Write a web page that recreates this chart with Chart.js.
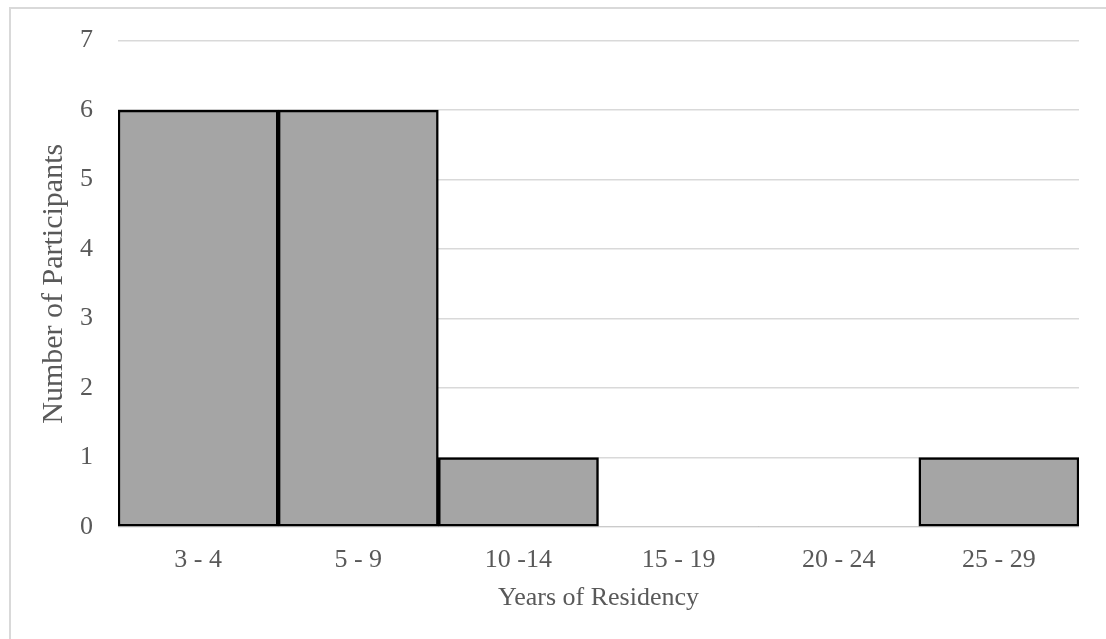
<!DOCTYPE html>
<html>
<head>
<meta charset="utf-8">
<script src="https://cdn.jsdelivr.net/npm/chart.js@4"></script>
<style>
  html, body { margin: 0; padding: 0; background: #fff; overflow: hidden; }
  #wrap { position: relative; width: 1106px; height: 639px; }
  #frame { position: absolute; left: 9px; top: 7px; width: 1200px; height: 700px; border: 2px solid #d9d9d9; box-sizing: border-box; }
  canvas { position: absolute; left: 0; top: 0; }
</style>
</head>
<body>
<div id="wrap">
  <div id="frame"></div>
  <canvas id="grafico" width="1106" height="639"></canvas>
</div>
<script>
const categorias = ["3 - 4", "5 - 9", "10 -14", "15 - 19", "20 - 24", "25 - 29"];
const participantes = [6, 6, 1, 0, 0, 1];
const tituloX = "Years of Residency";
const tituloY = "Number of Participants";

const fonte = "'Liberation Serif', 'Times New Roman', serif";
const corTexto = "#595959";

new Chart(document.getElementById("grafico"), {
  type: 'bar',
  data: {
    labels: categorias,
    datasets: [{
      data: participantes,
      backgroundColor: "#a5a5a5",
      borderColor: "#000000",
      borderWidth: ctx => (ctx.raw ? 2.5 : 0),
      borderSkipped: false,
      barPercentage: 1,
      categoryPercentage: 1
    }]
  },
  options: {
    responsive: false,
    animation: false,
    layout: { padding: { left: 0, right: 27, top: 37, bottom: 0 } },
    plugins: {
      legend: { display: false },
      tooltip: { enabled: false }
    },
    scales: {
      x: {
        grid: { display: false },
        border: { display: false },
        ticks: { color: corTexto, font: { family: fonte, size: 26 }, padding: 10, maxRotation: 0 },
        title: { display: true, text: tituloX, color: corTexto, font: { family: fonte, size: 26 }, padding: { top: 0, bottom: 25 } },
        afterFit: s => { s.height = 639 - 527; }
      },
      y: {
        min: 0,
        max: 7,
        ticks: { stepSize: 1, color: corTexto, font: { family: fonte, size: 26 }, padding: 25 },
        grid: { color: "#d9d9d9", lineWidth: 1.5, drawTicks: false },
        border: { display: false },
        title: { display: true, text: tituloY, color: corTexto, font: { family: fonte, size: 30 }, padding: { top: 36, bottom: 0 } },
        afterFit: s => { s.width = 118; }
      }
    }
  }
});
</script>
</body>
</html>
